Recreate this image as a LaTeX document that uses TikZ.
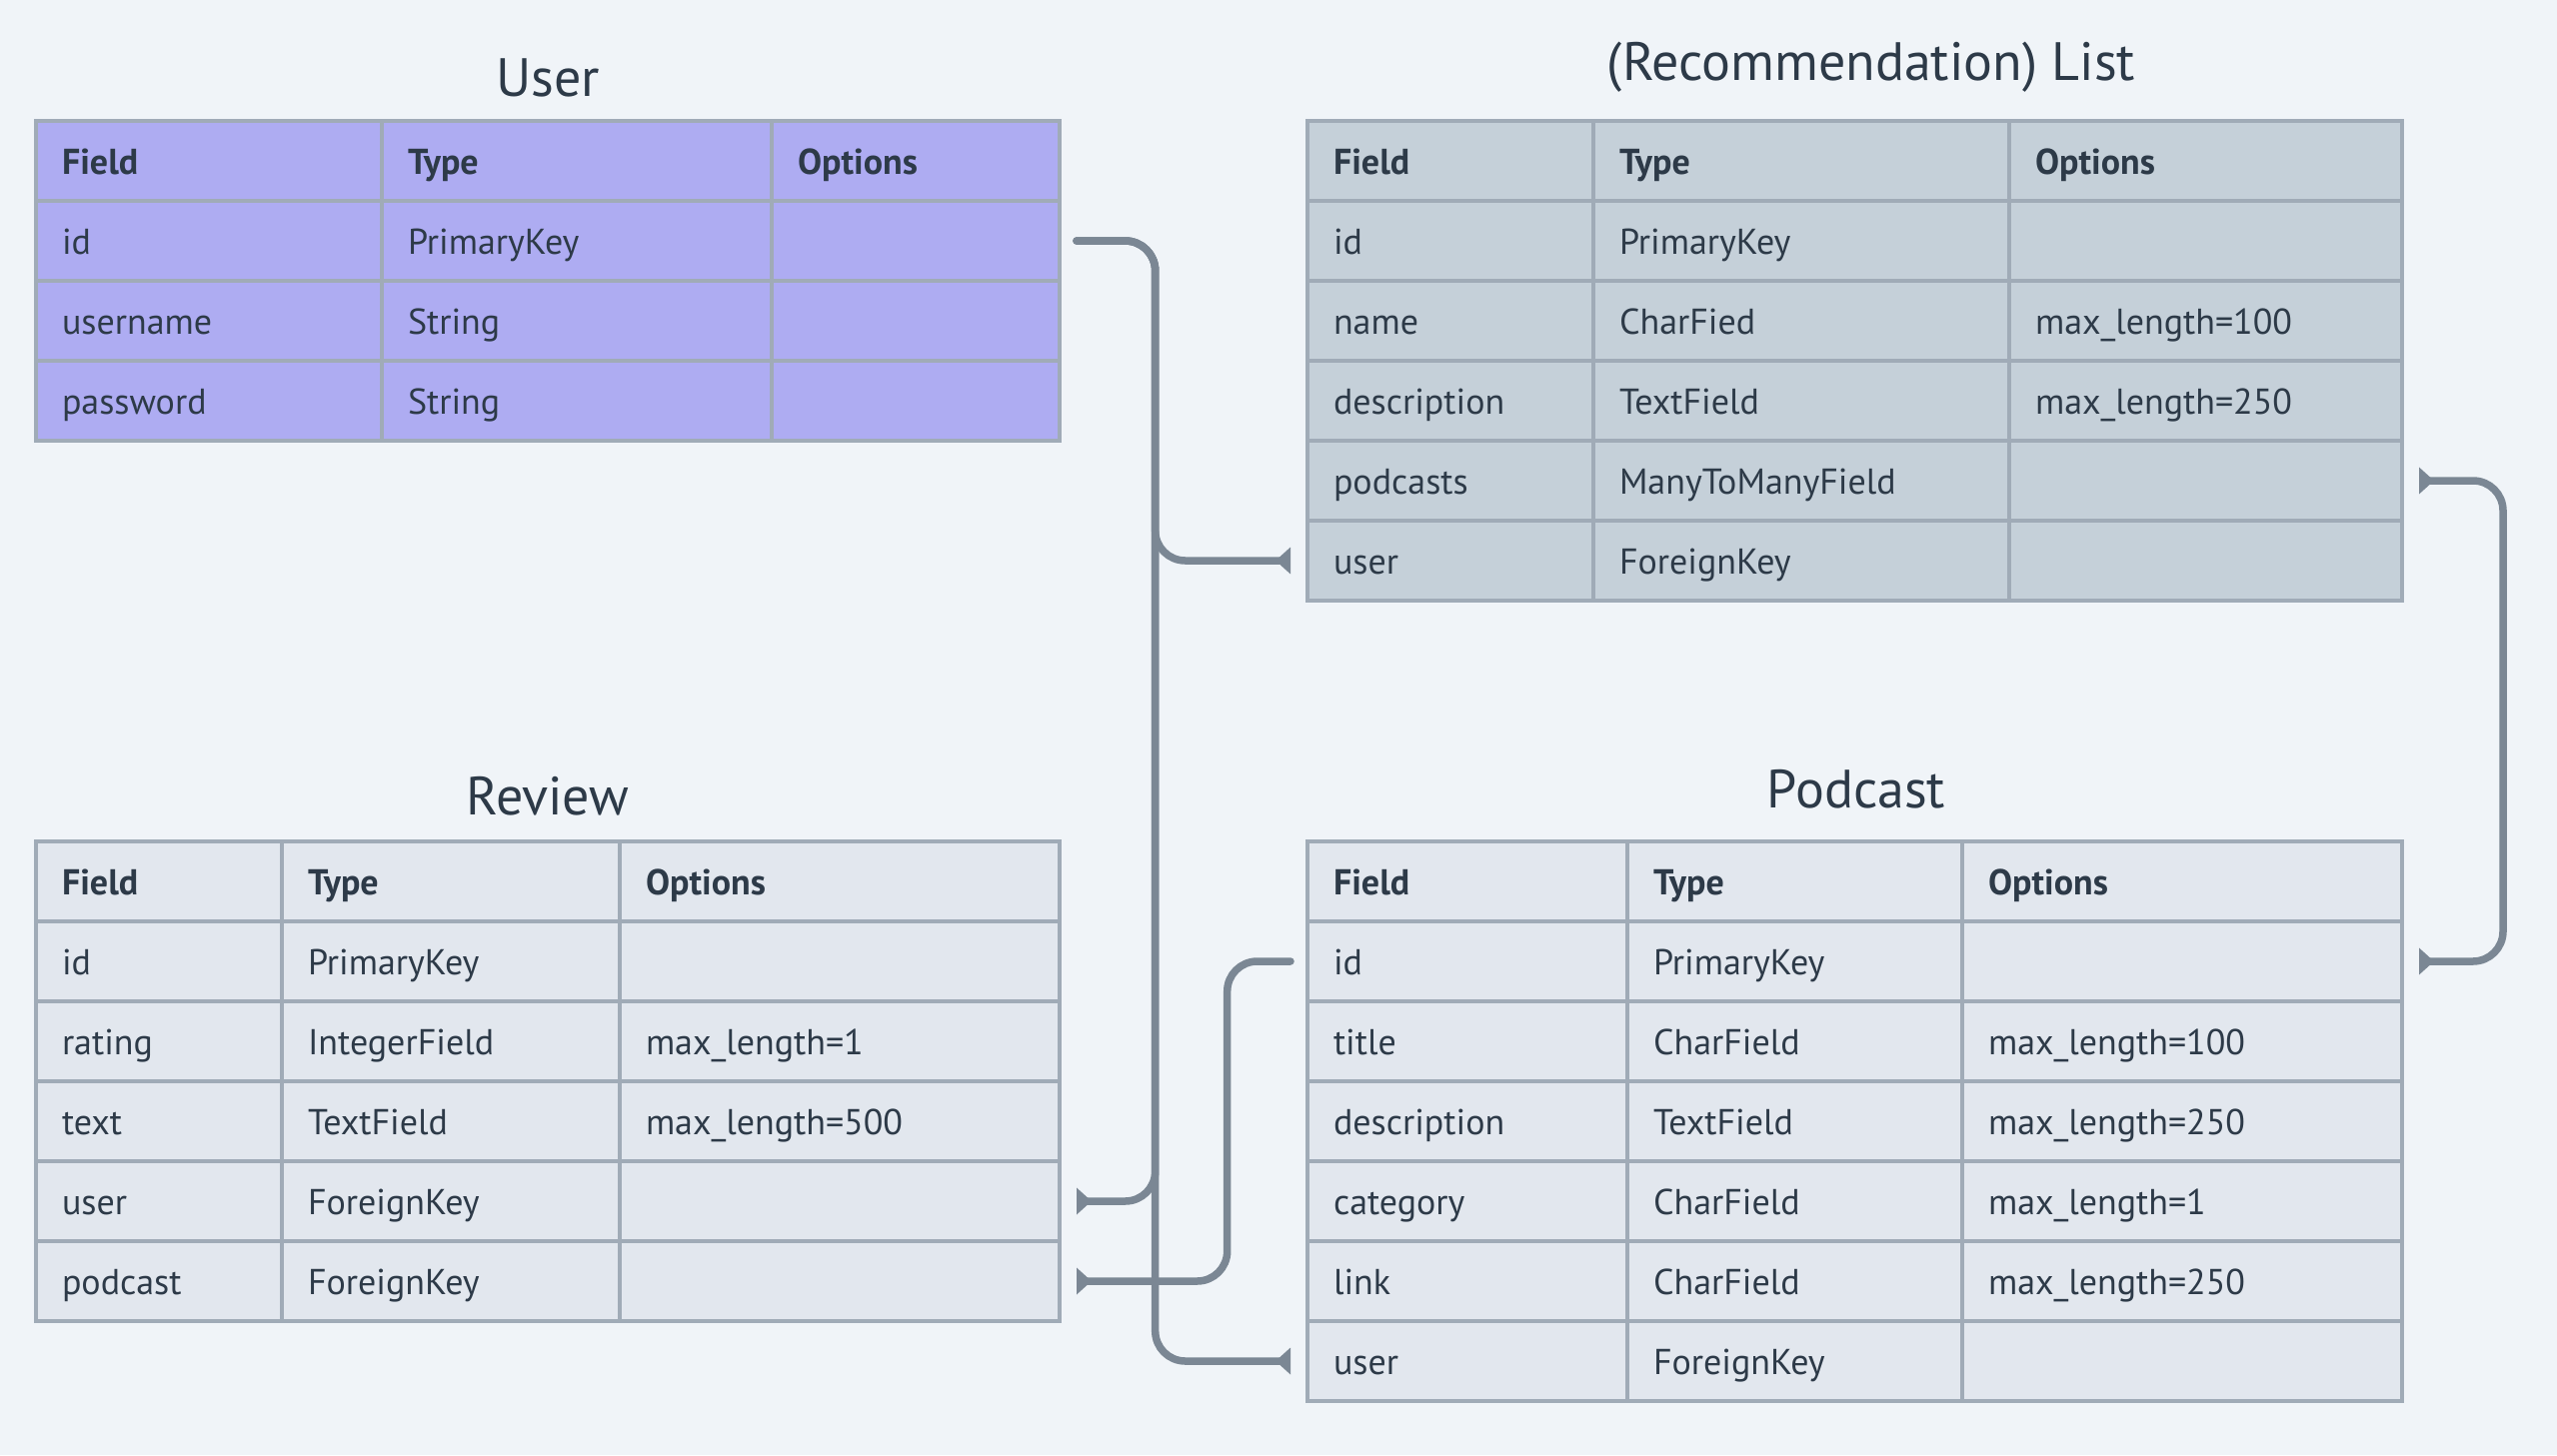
\documentclass[tikz,border=0pt]{standalone}
\usepackage{fontspec}
\setmainfont{PT Sans}
\usetikzlibrary{arrows.meta,calc}
\definecolor{bgcol}{HTML}{F0F4F8}
\definecolor{userfill}{HTML}{AEACF2}
\definecolor{listfill}{HTML}{C5D0D9}
\definecolor{plainfill}{HTML}{E2E7EE}
\definecolor{bordercol}{HTML}{A0ABB7}
\definecolor{textcol}{HTML}{2D3A48}
\definecolor{conncol}{HTML}{7B8794}
\newcommand\erCellFont{\fontsize{36}{43}\selectfont}
\newcommand\erTitleFont{\fontsize{54}{63}\selectfont}
\tikzset{
  cell/.style 2 args={draw=bordercol, line width=4pt, anchor=north west, outer sep=0pt,
    inner xsep=26pt, inner ysep=0pt, minimum height=80pt, minimum width=#1pt,
    text width=#2pt, align=left, text height=29pt, text depth=2pt,
    font=\erCellFont, text=textcol},
  title/.style={anchor=base, inner sep=0pt, font=\erTitleFont, text=textcol},
  conn/.style={draw=conncol, line width=7.5pt, line cap=round, rounded corners=30pt},
  endtip/.style={-{Triangle[reversed,length=15pt,width=26pt]}},
  bothtip/.style={{Triangle[reversed,length=15pt,width=26pt]}-{Triangle[reversed,length=15pt,width=26pt]}},
}
\newcommand\erSetTable[5]{\def\erCA{#1}\def\erCB{#2}\def\erCC{#3}\def\erCD{#4}\tikzset{tstyle/.style={fill=#5}}}
\newcommand\erRow[5]{%
  \pgfmathsetmacro\erWa{\erCB-\erCA}\pgfmathsetmacro\erWb{\erCC-\erCB}\pgfmathsetmacro\erWc{\erCD-\erCC}%
  \pgfmathsetmacro\erTa{\erWa-52}\pgfmathsetmacro\erTb{\erWb-52}\pgfmathsetmacro\erTc{\erWc-52}%
  \node[cell={\erWa}{\erTa},tstyle] (#1-f) at (\erCA,#2) {#3};
  \node[cell={\erWb}{\erTb},tstyle] (#1-t) at (\erCB,#2) {#4};
  \node[cell={\erWc}{\erTc},tstyle] (#1-o) at (\erCC,#2) {#5};}
\begin{document}
\begin{tikzpicture}[x=1pt,y=-1pt]
\fill[bgcol] (0,0) rectangle (2558,1456);
\useasboundingbox (0,0) rectangle (2558,1456);

% User
\node[title] (usertitle) at (548,96) {User};
\erSetTable{36}{382}{772}{1060}{userfill}
\erRow{u-h}{121}{\textbf{Field}}{\textbf{Type}}{\textbf{Options}}
\erRow{u-id}{201}{id}{PrimaryKey}{}
\erRow{u-username}{281}{username}{String}{}
\erRow{u-password}{361}{password}{String}{}

% List
\node[title] (listtitle) at (1872,80.5) {(Recommendation) List};
\erSetTable{1308}{1594}{2010}{2403}{listfill}
\erRow{l-h}{121}{\textbf{Field}}{\textbf{Type}}{\textbf{Options}}
\erRow{l-id}{201}{id}{PrimaryKey}{}
\erRow{l-name}{281}{name}{CharFied}{max\_length=100}
\erRow{l-description}{361}{description}{TextField}{max\_length=250}
\erRow{l-podcasts}{441}{podcasts}{ManyToManyField}{}
\erRow{l-user}{521}{user}{ForeignKey}{}

% Review
\node[title] (reviewtitle) at (548,815) {Review};
\erSetTable{36}{282}{620}{1060}{plainfill}
\erRow{r-h}{842}{\textbf{Field}}{\textbf{Type}}{\textbf{Options}}
\erRow{r-id}{922}{id}{PrimaryKey}{}
\erRow{r-rating}{1002}{rating}{IntegerField}{max\_length=1}
\erRow{r-text}{1082}{text}{TextField}{max\_length=500}
\erRow{r-user}{1162}{user}{ForeignKey}{}
\erRow{r-podcast}{1242}{podcast}{ForeignKey}{}

% Podcast
\node[title] (podcasttitle) at (1857,808) {Podcast};
\erSetTable{1308}{1628}{1963}{2403}{plainfill}
\erRow{p-h}{842}{\textbf{Field}}{\textbf{Type}}{\textbf{Options}}
\erRow{p-id}{922}{id}{PrimaryKey}{}
\erRow{p-title}{1002}{title}{CharField}{max\_length=100}
\erRow{p-description}{1082}{description}{TextField}{max\_length=250}
\erRow{p-category}{1162}{category}{CharField}{max\_length=1}
\erRow{p-link}{1242}{link}{CharField}{max\_length=250}
\erRow{p-user}{1322}{user}{ForeignKey}{}

% connectors
\coordinate (busA) at (1155.7,0);
\coordinate (busB) at (1227.7,0);
\coordinate (busC) at (2504,0);
\draw[conn,endtip] ([xshift=17pt]u-id-o.east) -| (busA |- l-user-f.west) -- ([xshift=-17pt]l-user-f.west);
\draw[conn,endtip] ([xshift=17pt]u-id-o.east) -| (busA |- r-user-o.east) -- ([xshift=17pt]r-user-o.east);
\draw[conn,endtip] ([xshift=17pt]u-id-o.east) -| (busA |- p-user-f.west) -- ([xshift=-17pt]p-user-f.west);
\draw[conn,endtip] ([xshift=-17pt]p-id-f.west) -| (busB |- r-podcast-o.east) -- ([xshift=17pt]r-podcast-o.east);
\draw[conn,bothtip] ([xshift=17pt]l-podcasts-o.east) -| (busC |- p-id-o.east) -- ([xshift=17pt]p-id-o.east);
\end{tikzpicture}
\end{document}
